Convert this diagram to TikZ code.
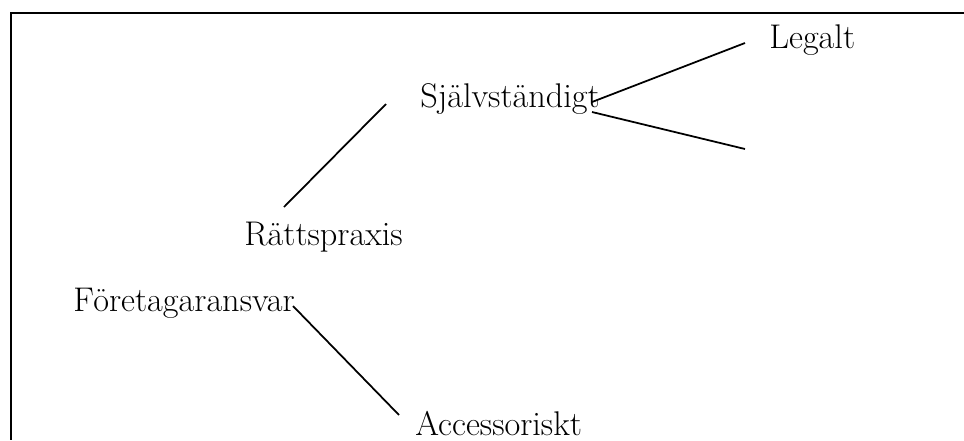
\documentclass[tikz,border=0pt]{standalone}
\usepackage{fontspec}
\usepackage{tikz}

\begin{document}
\begin{tikzpicture}[x=0.02cm, y=-0.02cm,
    term/.style={anchor=base west, inner sep=0pt,
                 font=\fontsize{19.5}{23}\selectfont},
    branch/.style={line width=1pt},
    frame/.style={line width=1.2pt}
  ]
  \useasboundingbox (0,0) rectangle (964,440);
  \draw[frame] (964,13) -- (11,13) -- (11,440);

  \node[term] (legalt) at (769,48) {Legalt};
  \node[term] (sjalv) at (420,107) {Självständigt};
  \node[term] (praxis) at (244,245) {Rättspraxis};
  \node[term] (foretag) at (73,311) {Företagaransvar};
  \node[term] (access) at (415,435) {Accessoriskt};

  \coordinate (praxistop) at (284,207);
  \coordinate (sjalvlow) at (386,104);
  \coordinate (sjalvup) at (592,102);
  \coordinate (sjalvdown) at (592,112);
  \coordinate (legaltend) at (745,43);
  \coordinate (blankend) at (745,149);
  \coordinate (foretagend) at (293,306);
  \coordinate (accesstop) at (399,415);

  \draw[branch] (praxistop) -- (sjalvlow);
  \draw[branch] (sjalvup) -- (legaltend);
  \draw[branch] (sjalvdown) -- (blankend);
  \draw[branch] (foretagend) -- (accesstop);
\end{tikzpicture}
\end{document}
